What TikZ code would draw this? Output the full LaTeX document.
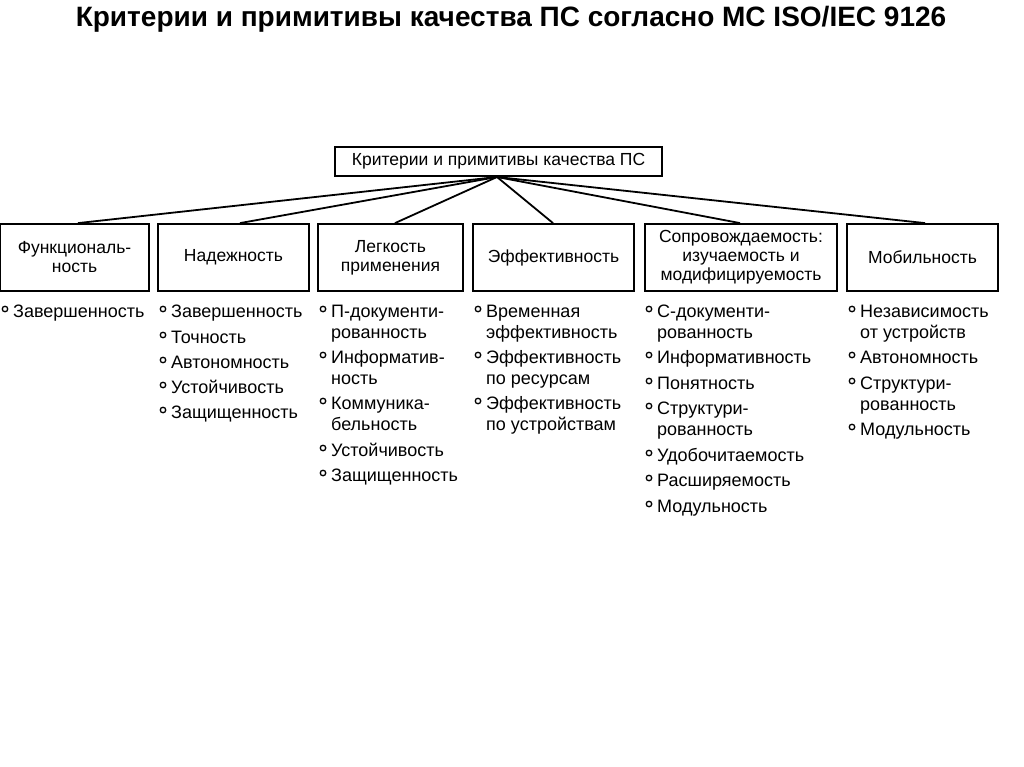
\documentclass[tikz,border=0pt]{standalone}
\usepackage{fontspec}
\setmainfont{Liberation Sans}
\begin{document}
\begin{tikzpicture}[x=1pt,y=-1pt,
  box/.style={draw,line width=1.8pt,minimum height=67pt,align=center,font=\fontsize{17.5}{19}\selectfont,inner sep=0pt},
  ln/.style={anchor=base west,inner sep=0pt,font=\fontsize{18}{20}\selectfont},
  bul/.style={draw,circle,line width=1.3pt,inner sep=0pt,minimum size=5.5pt}]
\useasboundingbox (0,0) rectangle (1024,767);
\node[font=\fontsize{28}{30}\bfseries\selectfont] (title) at (511,19) {Критерии и примитивы качества ПС согласно МС ISO/IEC 9126};
\node[draw,line width=1.8pt,minimum width=327pt,minimum height=29pt,inner sep=0pt,font=\fontsize{17.5}{19}\selectfont] (root) at (498.5,161.5) {Критерии и примитивы качества ПС};
\coordinate (r) at (497,177);
\node[box,minimum width=149pt] (b1) at (74.5,257.5) {Функциональ-\\ность};
\node[box,minimum width=151pt] (b2) at (233.5,257.5) {Надежность};
\node[box,minimum width=145pt] (b3) at (390.5,257.5) {Легкость\\применения};
\node[box,minimum width=161pt] (b4) at (553.5,257.5) {Эффективность};
\node[box,minimum width=192pt] (b5) at (741,257.5) {Сопровождаемость:\\изучаемость и\\модифицируемость};
\node[box,minimum width=151pt] (b6) at (922.5,257.5) {Мобильность};
\foreach \b/\xx in {b1/78,b2/240,b3/395,b4/553,b5/740,b6/925}
  \draw[line width=1.8pt] (r) -- (\b.north -| \xx,0);
\newcommand{\itm}[4]{\node[bul] (#1) at (#2,#3-2) {};\node[ln] (#1t) at (#2+8,#3+6.5) {#4};}
\newcommand{\cnt}[4]{\node[ln] (#1) at (#2+8,#3+6.5) {#4};}
% col1
\itm{a1}{5}{311}{Завершенность}
% col2
\itm{c21}{163}{311}{Завершенность}
\itm{c22}{163}{337}{Точность}
\itm{c23}{163}{362}{Автономность}
\itm{c24}{163}{387}{Устойчивость}
\itm{c25}{163}{412}{Защищенность}
% col3
\itm{c31}{323}{311}{П-документи-}\cnt{c31b}{323}{331.5}{рованность}
\itm{c32}{323}{357}{Информатив-}\cnt{c32b}{323}{377.5}{ность}
\itm{c33}{323}{403}{Коммуника-}\cnt{c33b}{323}{423.5}{бельность}
\itm{c34}{323}{450}{Устойчивость}
\itm{c35}{323}{475}{Защищенность}
% col4
\itm{c41}{478}{311}{Временная}\cnt{c41b}{478}{331.5}{эффективность}
\itm{c42}{478}{357}{Эффективность}\cnt{c42b}{478}{377.5}{по ресурсам}
\itm{c43}{478}{403}{Эффективность}\cnt{c43b}{478}{423.5}{по устройствам}
% col5
\itm{c51}{649}{311}{С-документи-}\cnt{c51b}{649}{331.5}{рованность}
\itm{c52}{649}{357}{Информативность}
\itm{c53}{649}{383}{Понятность}
\itm{c54}{649}{408}{Структури-}\cnt{c54b}{649}{428.5}{рованность}
\itm{c55}{649}{455}{Удобочитаемость}
\itm{c56}{649}{480}{Расширяемость}
\itm{c57}{649}{506}{Модульность}
% col6
\itm{c61}{852}{311}{Независимость}\cnt{c61b}{852}{331.5}{от устройств}
\itm{c62}{852}{357}{Автономность}
\itm{c63}{852}{383}{Структури-}\cnt{c63b}{852}{403.5}{рованность}
\itm{c64}{852}{429}{Модульность}
\end{tikzpicture}
\end{document}
